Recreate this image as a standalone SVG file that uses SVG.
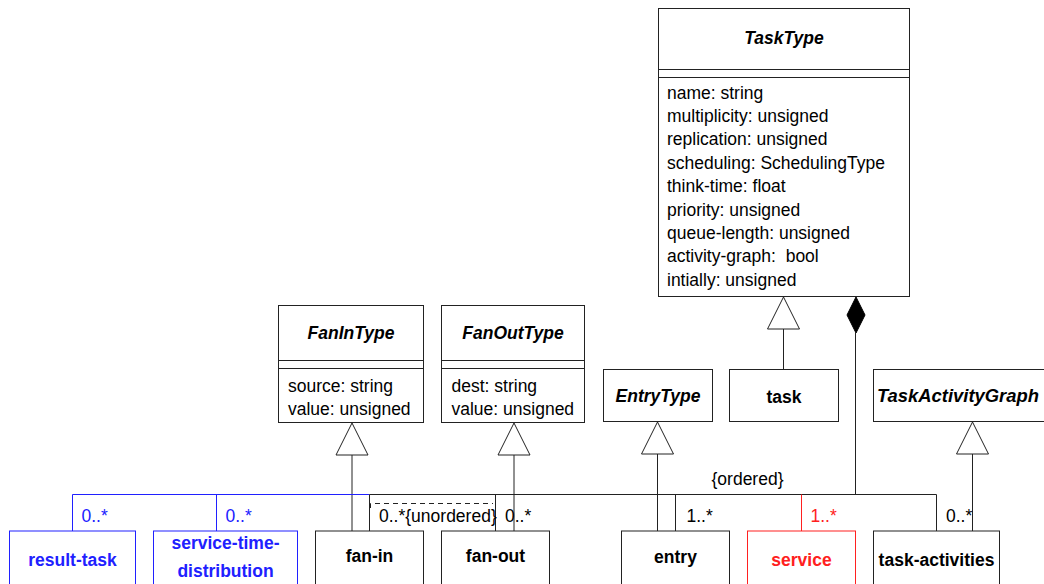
<svg xmlns="http://www.w3.org/2000/svg" width="1044" height="584" viewBox="0 0 1044 584">
<defs>
<style>
.box{fill:#fff;stroke:#222;stroke-width:1}
.bb{fill:#fff;stroke:#2020ff;stroke-width:1}
.rb{fill:#fff;stroke:#ff2020;stroke-width:1}
.ln{fill:none;stroke:#222;stroke-width:1}
.bl{fill:none;stroke:#2020ff;stroke-width:1}
.rl{fill:none;stroke:#ff2020;stroke-width:1}
.tri{fill:#fff;stroke:#222;stroke-width:1}
.t{font-family:"Liberation Sans",Arial,sans-serif;font-size:17.5px;fill:#000}
.title{font-family:"Liberation Sans",Arial,sans-serif;font-size:17.5px;font-weight:bold;font-style:italic;fill:#000;text-anchor:middle}
.name{font-family:"Liberation Sans",Arial,sans-serif;font-size:17.5px;font-weight:bold;fill:#000;text-anchor:middle}
.blue{fill:#2020ff}
.red{fill:#ff2020}
</style>
</defs>
<g id="TaskType">
<rect class="box" x="658.5" y="8.5" width="251" height="288"/>
<line class="ln" x1="658.5" y1="69.5" x2="909.5" y2="69.5"/>
<line class="ln" x1="658.5" y1="77.5" x2="909.5" y2="77.5"/>
<text class="title" x="784" y="44">TaskType</text>
<text class="t" x="667" y="98.5">name: string</text>
<text class="t" x="667" y="121.9">multiplicity: unsigned</text>
<text class="t" x="667" y="145.3">replication: unsigned</text>
<text class="t" x="667" y="168.8">scheduling: SchedulingType</text>
<text class="t" x="667" y="192.2">think-time: float</text>
<text class="t" x="667" y="215.6">priority: unsigned</text>
<text class="t" x="667" y="239">queue-length: unsigned</text>
<text class="t" x="667" y="262.4" xml:space="preserve">activity-graph:  bool</text>
<text class="t" x="667" y="285.8">intially: unsigned</text>
</g>
<g id="FanInType">
<rect class="box" x="278.5" y="305.5" width="145" height="117"/>
<line class="ln" x1="278.5" y1="360.5" x2="423.5" y2="360.5"/>
<line class="ln" x1="278.5" y1="368.5" x2="423.5" y2="368.5"/>
<text class="title" x="351" y="339">FanInType</text>
<text class="t" x="288" y="391.5">source: string</text>
<text class="t" x="288" y="415">value: unsigned</text>
</g>
<g id="FanOutType">
<rect class="box" x="441.5" y="305.5" width="143" height="117"/>
<line class="ln" x1="441.5" y1="360.5" x2="584.5" y2="360.5"/>
<line class="ln" x1="441.5" y1="368.5" x2="584.5" y2="368.5"/>
<text class="title" x="513" y="339">FanOutType</text>
<text class="t" x="451.5" y="391.5">dest: string</text>
<text class="t" x="451.5" y="415">value: unsigned</text>
</g>
<g id="EntryType">
<rect class="box" x="603.5" y="369.5" width="109" height="52"/>
<text class="title" x="658" y="402">EntryType</text>
</g>
<g id="task">
<rect class="box" x="729.5" y="369.5" width="109" height="52"/>
<text class="name" x="784" y="403">task</text>
</g>
<g id="TaskActivityGraph">
<rect class="box" x="873.5" y="369.5" width="190" height="52"/>
<text class="title" x="958" y="402" textLength="162" lengthAdjust="spacingAndGlyphs">TaskActivityGraph</text>
</g>
<g id="connectors">
<polygon class="tri" points="352,423 368,455 336,455"/>
<line class="ln" x1="352" y1="455" x2="352" y2="531"/>
<polygon class="tri" points="514,423 530,455 498,455"/>
<line class="ln" x1="514" y1="455" x2="514" y2="531"/>
<polygon class="tri" points="657.5,422 673.5,454 641.5,454"/>
<line class="ln" x1="657.5" y1="454" x2="657.5" y2="531"/>
<polygon class="tri" points="783.5,297 799.5,329 767.5,329"/>
<line class="ln" x1="783.5" y1="329" x2="783.5" y2="369"/>
<polygon class="tri" points="972.5,422 988.5,454 956.5,454"/>
<line class="ln" x1="972.5" y1="454" x2="972.5" y2="531"/>
<polygon points="856,297 865,315 856,333 847,315" fill="#000" stroke="#000"/>
<line class="ln" x1="855.5" y1="333" x2="855.5" y2="494.5"/>
<polyline class="bl" points="72.5,531 72.5,494.5 369.5,494.5"/>
<line class="bl" x1="216.5" y1="494.5" x2="216.5" y2="531"/>
<polyline class="ln" points="369.5,531 369.5,494.5 936.5,494.5 936.5,531"/>
<line class="ln" x1="495.5" y1="494.5" x2="495.5" y2="531"/>
<line class="ln" x1="675.5" y1="494.5" x2="675.5" y2="531"/>
<line class="rl" x1="801.5" y1="494.5" x2="801.5" y2="531"/>
<polyline class="ln" points="370.5,508 370.5,503.5 493,503.5" stroke-dasharray="5,4"/>
<text class="t blue" x="81.5" y="522">0..*</text>
<text class="t blue" x="225.5" y="522">0..*</text>
<text class="t" x="379" y="522">0..*{unordered}</text>
<text class="t" x="505" y="522">0..*</text>
<text class="t" x="686.5" y="522">1..*</text>
<text class="t" x="711.5" y="485">{ordered}</text>
<text class="t red" x="810.5" y="522">1..*</text>
<text class="t" x="946" y="522">0..*</text>
</g>
<g id="result-task">
<rect class="bb" x="9.5" y="531" width="126" height="60"/>
<text class="name blue" x="72.5" y="566">result-task</text>
</g>
<g id="service-time-distribution">
<rect class="bb" x="153.5" y="531" width="144" height="60"/>
<text class="name blue" x="225.5" y="549">service-time-</text>
<text class="name blue" x="225.5" y="577">distribution</text>
</g>
<g id="fan-in">
<rect class="box" x="315.5" y="531" width="108" height="60"/>
<text class="name" x="369.5" y="562">fan-in</text>
</g>
<g id="fan-out">
<rect class="box" x="441.5" y="531" width="108" height="60"/>
<text class="name" x="495.5" y="562">fan-out</text>
</g>
<g id="entry">
<rect class="box" x="621.5" y="531" width="108" height="60"/>
<text class="name" x="675.5" y="563">entry</text>
</g>
<g id="service">
<rect class="rb" x="747.5" y="531" width="108" height="60"/>
<text class="name red" x="801.5" y="566">service</text>
</g>
<g id="task-activities">
<rect class="box" x="873.5" y="531" width="126" height="60"/>
<text class="name" x="936.5" y="566">task-activities</text>
</g>
</svg>
